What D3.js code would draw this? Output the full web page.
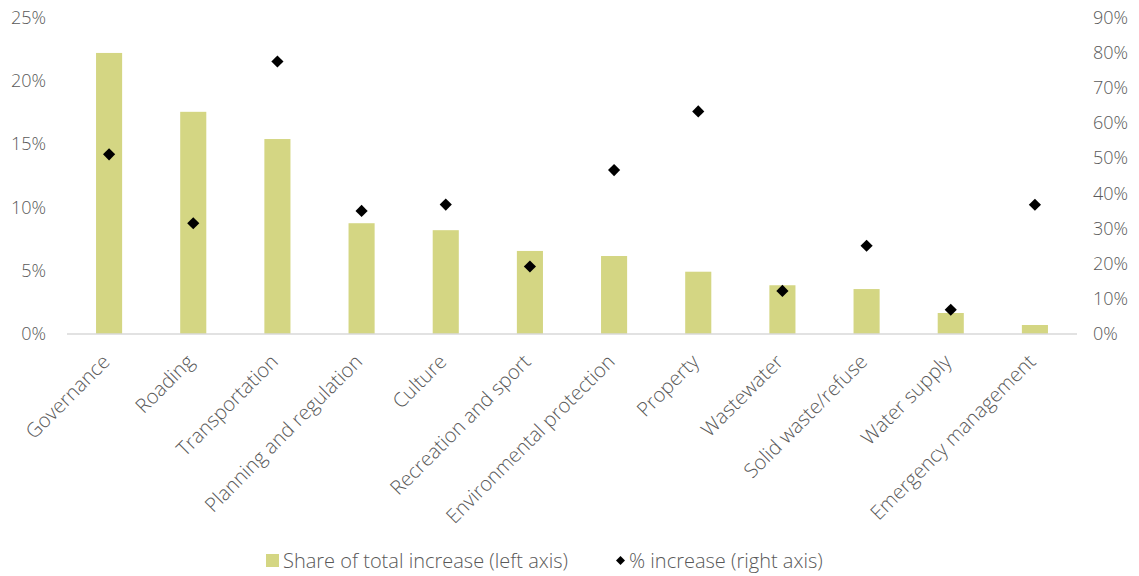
<!DOCTYPE html>
<html>
<head>
<meta charset="utf-8">
<script src="https://cdn.jsdelivr.net/npm/d3@7"></script>
<style>
  html, body { margin: 0; padding: 0; background: #fff; }
  svg { display: block; }
  text { font-family: "Open Sans", Lato, sans-serif; font-weight: 300; fill: #595959; }
</style>
</head>
<body>
<svg id="chart" width="1139" height="576"></svg>
<script>
const categories = ["Governance", "Roading", "Transportation", "Planning and regulation", "Culture",
  "Recreation and sport", "Environmental protection", "Property", "Wastewater",
  "Solid waste/refuse", "Water supply", "Emergency management"];
const shareOfTotal = [0.222, 0.1755, 0.154, 0.0875, 0.082, 0.0656, 0.0616, 0.0492, 0.0385, 0.0355, 0.0166, 0.0071];
const pctIncrease = [0.511, 0.315, 0.775, 0.350, 0.368, 0.192, 0.466, 0.633, 0.1225, 0.251, 0.069, 0.3675];
const leftTicks = [0, 0.05, 0.10, 0.15, 0.20, 0.25];
const rightTicks = [0, 0.1, 0.2, 0.3, 0.4, 0.5, 0.6, 0.7, 0.8, 0.9];
const seriesNames = ["Share of total increase (left axis)", "% increase (right axis)"];

const svg = d3.select("#chart");
const plot = { left: 67, right: 1077, top: 17.5, bottom: 334 };

const x = d3.scaleBand().domain(categories).range([plot.left, plot.right]).paddingInner(0.69).paddingOuter(0.345);
const yL = d3.scaleLinear().domain([0, 0.25]).range([plot.bottom, plot.top]);
const yR = d3.scaleLinear().domain([0, 0.9]).range([plot.bottom, plot.top]);
const fmt = d3.format(".0%");
const FONT = "'Open Sans', Lato, sans-serif";

// bars
svg.append("g").selectAll("rect").data(categories).join("rect")
  .attr("x", d => x(d))
  .attr("width", x.bandwidth())
  .attr("y", (d, i) => yL(shareOfTotal[i]))
  .attr("height", (d, i) => yL(0) - yL(shareOfTotal[i]))
  .attr("fill", "#d4d683");

// baseline
svg.append("line").attr("x1", plot.left).attr("x2", plot.right)
  .attr("y1", yL(0)).attr("y2", yL(0))
  .attr("stroke", "#d9d9d9").attr("stroke-width", 1.3);

// left axis
const axL = svg.append("g").attr("transform", `translate(${plot.left - 21},0)`)
  .call(d3.axisLeft(yL).tickValues(leftTicks).tickFormat(fmt).tickSize(0).tickPadding(0));
axL.select(".domain").remove();
axL.selectAll("text").attr("font-size", 18).style("font-family", FONT).style("font-weight", 300).attr("fill", "#595959");

// right axis
const axR = svg.append("g").attr("transform", `translate(${plot.right + 16},0)`)
  .call(d3.axisRight(yR).tickValues(rightTicks).tickFormat(fmt).tickSize(0).tickPadding(0));
axR.select(".domain").remove();
axR.selectAll("text").attr("font-size", 18).style("font-family", FONT).style("font-weight", 300).attr("fill", "#595959");

// diamonds
const diamond = d3.symbol().type(d3.symbolSquare).size(74);
svg.append("g").selectAll("path").data(categories).join("path")
  .attr("d", diamond)
  .attr("transform", (d, i) => `translate(${x(d) + x.bandwidth() / 2},${yR(pctIncrease[i])}) rotate(45)`)
  .attr("fill", "#000");

// category labels
svg.append("g").selectAll("text").data(categories).join("text")
  .attr("transform", d => `translate(${x(d) + x.bandwidth() / 2 + 2},${plot.bottom + 29}) rotate(-45)`)
  .attr("text-anchor", "end")
  .attr("font-size", 20)
  .text(d => d);

// legend
const lg = svg.append("g");
lg.append("rect").attr("x", 266).attr("y", 554).attr("width", 13).attr("height", 13).attr("fill", "#d4d683");
lg.append("text").attr("x", 283).attr("y", 560.5).attr("dy", "0.35em").attr("font-size", 20).text(seriesNames[0]);
lg.append("path").attr("d", d3.symbol().type(d3.symbolSquare).size(40))
  .attr("transform", "translate(620.5,560.5) rotate(45)").attr("fill", "#000");
lg.append("text").attr("x", 629).attr("y", 560.5).attr("dy", "0.35em").attr("font-size", 20).text(seriesNames[1]);
</script>
</body>
</html>
